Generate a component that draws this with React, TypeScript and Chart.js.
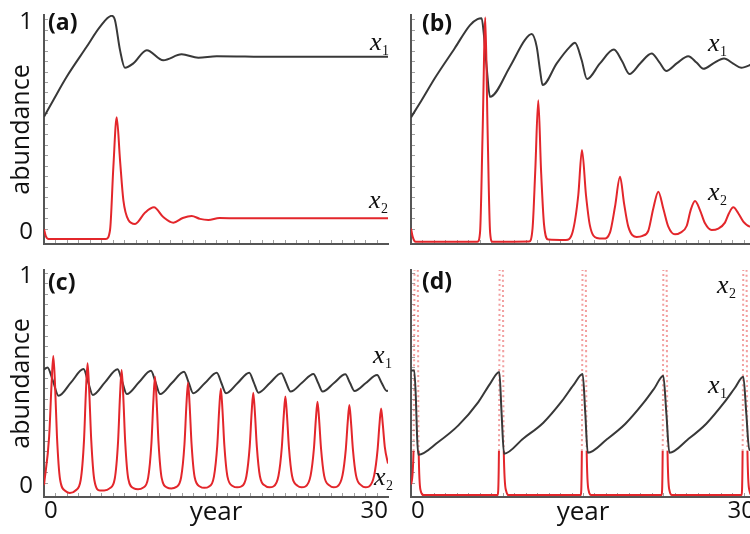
import React, { useEffect, useRef } from 'react';
import { Chart, registerables } from 'chart.js';

Chart.register(...registerables);

type Pt = [number, number];

// ---------- text / ticks ----------
const yearMin = 0;
const yearMax = 30;
const yTickValues = [0, 1];
const yTickLabels = ['0', '1'];
const xTickValues = [0, 30];
const xTickLabels = ['0', '30'];
const yAxisTitle = 'abundance';
const xAxisTitle = 'year';
const panelLetters = ['(a)', '(b)', '(c)', '(d)'];
const seriesBase = 'x';
const seriesSubs = ['1', '2'];

// ---------- data: [year, abundance] ----------
const aX1: Pt[] = [
  [0, 0.584], [0.81, 0.663], [1.98, 0.775], [3.72, 0.918], [4.88, 1.013], [5.9, 1.066],
  [6.19, 1.045], [6.63, 0.902], [7.06, 0.818], [7.79, 0.839], [8.96, 0.902], [10.4, 0.854],
  [12.0, 0.882], [13.46, 0.866], [15.06, 0.873], [20, 0.87], [30, 0.87],
];
const aX2: Pt[] = [
  [0, 0.047], [0.15, 0.015], [0.4, 0.0], [5.4, 0.0], [5.76, 0.043], [6.05, 0.345], [6.34, 0.581],
  [6.63, 0.377], [6.92, 0.186], [7.36, 0.091], [7.94, 0.072], [8.8, 0.125], [9.59, 0.151],
  [10.4, 0.105], [11.28, 0.078], [12.1, 0.1], [12.88, 0.11], [13.6, 0.096], [14.33, 0.091],
  [15.3, 0.1], [17, 0.099], [30, 0.099],
];

const bX1: Pt[] = [
  [0, 0.581], [0.9, 0.66], [2.1, 0.77], [3.8, 0.91], [5.15, 1.022], [5.8, 1.05], [6.16, 1.054],
  [6.35, 0.98], [6.6, 0.82], [6.89, 0.679],
  [8.63, 0.823], [9.94, 0.951], [10.52, 0.979], [10.96, 0.919], [11.25, 0.807], [11.48, 0.735],
  [12.71, 0.839], [13.87, 0.919], [14.3, 0.937], [14.88, 0.855], [15.35, 0.764],
  [16.48, 0.839], [17.7, 0.905], [18.4, 0.85], [19.05, 0.788],
  [20.0, 0.84], [20.99, 0.886], [21.65, 0.845], [22.25, 0.803],
  [23.2, 0.84], [24.18, 0.873], [24.9, 0.843], [25.5, 0.813],
  [26.4, 0.84], [27.3, 0.862], [28.1, 0.838], [28.8, 0.818],
  [29.56, 0.831], [30, 0.845],
];
const bX2: Pt[] = [
  [0, 0.05], [0.15, 0.01], [0.4, -0.013], [5.8, -0.013], [6.02, 0.03], [6.25, 0.52], [6.48, 1.058],
  [6.68, 0.52], [6.9, 0.03], [7.1, -0.013],
  [10.3, -0.012], [10.6, 0.05], [10.84, 0.33], [11.1, 0.663], [11.34, 0.33], [11.6, 0.07], [11.98, -0.003], [13.5, -0.005],
  [14.1, 0.035], [14.59, 0.21], [14.91, 0.425], [15.26, 0.21], [15.6, 0.065], [16.2, 0.005], [16.8, 0.002],
  [17.35, 0.03], [17.79, 0.154], [18.23, 0.297], [18.58, 0.17], [18.95, 0.059], [19.68, 0.01], [20.2, 0.015],
  [20.7, 0.04], [21.13, 0.146], [21.57, 0.226], [22.0, 0.146], [22.44, 0.059], [23.02, 0.022], [23.5, 0.03],
  [24.04, 0.062], [24.39, 0.138], [24.77, 0.181], [25.2, 0.138], [25.64, 0.075], [26.22, 0.043], [26.8, 0.05],
  [27.38, 0.078], [27.73, 0.123], [28.11, 0.151], [28.54, 0.123], [28.98, 0.083], [29.56, 0.059], [30, 0.057],
];

const cX1: Pt[] = [
  [0, 0.587], [0.3, 0.598], [0.8, 0.53], [1.26, 0.463],
  [2.36, 0.527], [3.45, 0.59], [3.85, 0.528], [4.25, 0.467],
  [5.33, 0.528], [6.42, 0.589], [6.82, 0.53], [7.22, 0.471],
  [8.28, 0.527], [9.33, 0.582], [9.73, 0.527], [10.13, 0.471],
  [11.17, 0.525], [12.21, 0.578], [12.61, 0.527], [13.01, 0.475],
  [14.04, 0.524], [15.07, 0.573], [15.47, 0.524], [15.87, 0.475],
  [16.89, 0.524], [17.9, 0.573], [18.3, 0.526], [18.7, 0.478],
  [19.7, 0.524], [20.7, 0.57], [21.1, 0.527], [21.5, 0.483],
  [22.5, 0.525], [23.5, 0.567], [23.9, 0.525], [24.3, 0.483],
  [25.29, 0.524], [26.28, 0.565], [26.68, 0.525], [27.08, 0.486],
  [28.07, 0.524], [29.05, 0.562], [29.45, 0.524], [29.9, 0.486], [30, 0.487],
];
const cX2: Pt[] = [
  [0, 0.038], [0.45, 0.27], [0.66, 0.52], [0.81, 0.652], [0.96, 0.52], [1.13, 0.27], [1.4, 0.065], [1.9, 0.008], [2.25, 0.0],
  [2.75, 0.012], [3.2, 0.062], [3.49, 0.252], [3.66, 0.49], [3.8, 0.618], [3.94, 0.49], [4.12, 0.252], [4.39, 0.062], [4.88, 0.012], [5.25, 0.012],
  [5.72, 0.022], [6.17, 0.068], [6.46, 0.245], [6.63, 0.465], [6.77, 0.586], [6.91, 0.465], [7.08, 0.245], [7.35, 0.068], [7.84, 0.022], [8.2, 0.018],
  [8.63, 0.025], [9.08, 0.072], [9.37, 0.238], [9.54, 0.44], [9.68, 0.554], [9.82, 0.44], [9.99, 0.238], [10.26, 0.072], [10.75, 0.026], [11.1, 0.022],
  [11.51, 0.028], [11.96, 0.075], [12.25, 0.232], [12.42, 0.42], [12.56, 0.525], [12.7, 0.42], [12.87, 0.232], [13.14, 0.075], [13.63, 0.03], [13.98, 0.025],
  [14.37, 0.03], [14.82, 0.078], [15.11, 0.226], [15.28, 0.4], [15.42, 0.498], [15.56, 0.4], [15.73, 0.226], [16.0, 0.078], [16.49, 0.032], [16.84, 0.027],
  [17.2, 0.031], [17.65, 0.08], [17.94, 0.222], [18.11, 0.385], [18.25, 0.478], [18.39, 0.385], [18.56, 0.222], [18.83, 0.08], [19.32, 0.033], [19.66, 0.027],
  [20.0, 0.031], [20.45, 0.082], [20.74, 0.218], [20.91, 0.37], [21.05, 0.459], [21.19, 0.37], [21.36, 0.218], [21.63, 0.082], [22.12, 0.034], [22.45, 0.027],
  [22.8, 0.031], [23.25, 0.083], [23.54, 0.212], [23.71, 0.352], [23.85, 0.435], [23.99, 0.352], [24.16, 0.212], [24.43, 0.083], [24.92, 0.035], [25.25, 0.027],
  [25.58, 0.031], [26.03, 0.084], [26.32, 0.208], [26.49, 0.34], [26.63, 0.419], [26.77, 0.34], [26.94, 0.208], [27.21, 0.084], [27.7, 0.035], [28.03, 0.027],
  [28.35, 0.031], [28.8, 0.085], [29.09, 0.205], [29.26, 0.33], [29.4, 0.403], [29.54, 0.33], [29.72, 0.22], [30, 0.14],
];

const dX1: Pt[] = [
  [0, 0.584], [0.28, 0.584], [0.42, 0.46], [0.53, 0.27], [0.64, 0.182],
  [2.38, 0.243], [4.13, 0.322], [5.87, 0.433], [6.89, 0.52], [7.7, 0.576], [7.9, 0.38], [8.11, 0.187],
  [9.8, 0.26], [11.54, 0.335], [13.19, 0.44], [14.18, 0.515], [14.97, 0.567], [15.2, 0.38], [15.41, 0.192],
  [17.06, 0.255], [18.7, 0.33], [20.29, 0.43], [21.24, 0.5], [22.0, 0.559], [22.27, 0.38], [22.53, 0.192],
  [24.14, 0.255], [25.75, 0.33], [27.3, 0.43], [28.24, 0.5], [28.98, 0.554], [29.24, 0.38], [29.5, 0.205], [30, 0.222],
];
const dX2: Pt[] = [
  [0, 0.04], [0.22, 0.2], [0.31, 1.1], [0.45, 3.0], [0.59, 1.1], [0.67, 0.2], [0.85, 0.01], [1.1, -0.01],
  [7.55, -0.01], [7.67, 0.2], [7.73, 1.1], [7.87, 3.0], [8.01, 1.1], [8.09, 0.2], [8.3, 0.01], [8.5, -0.01],
  [14.8, -0.01], [14.9, 0.2], [14.96, 1.1], [15.1, 3.0], [15.24, 1.1], [15.32, 0.2], [15.5, 0.01], [15.7, -0.01],
  [21.85, -0.01], [21.95, 0.2], [22.01, 1.1], [22.15, 3.0], [22.29, 1.1], [22.37, 0.2], [22.55, 0.01], [22.75, -0.01],
  [28.82, -0.01], [28.92, 0.2], [28.98, 1.1], [29.12, 3.0], [29.26, 1.1], [29.34, 0.2], [29.52, 0.01], [29.7, -0.01], [30, -0.01],
];

// ---------- style ----------
const BLACK = '#383838';
const RED = '#e3262b';
const PINK = 'rgba(232, 80, 80, 0.55)';
const AXIS = '#555555';
const TEXT = '#111111';
const FONT = '"Open Sans", Lato, sans-serif';
const SERIF = '"Liberation Serif", "DejaVu Serif", serif';

interface LabelPos { sub: number; t: number; v: number; }
interface PanelSpec {
  left: number; top: number; width: number; height: number;
  padTop: number; padRight: number; yAxisWidth: number; xAxisHeight: number;
  yMin: number; yMax: number; showY: boolean; showX: boolean;
  x1: Pt[]; x2: Pt[]; blackOnTop: boolean; dotted: boolean;
  letter: string; letterAt: [number, number]; labels: LabelPos[];
}

const panels: PanelSpec[] = [
  {
    left: 0, top: 0, width: 400, height: 252, padTop: 15, padRight: 12, yAxisWidth: 44, xAxisHeight: 8,
    yMin: -0.024, yMax: 1.07, showY: true, showX: false, x1: aX1, x2: aX2, blackOnTop: false, dotted: false,
    letter: panelLetters[0], letterAt: [0.35, 0.999],
    labels: [{ sub: 0, t: 28.43, v: 0.903 }, { sub: 1, t: 28.34, v: 0.148 }],
  },
  {
    left: 400, top: 0, width: 360, height: 252, padTop: 15, padRight: 5, yAxisWidth: 11, xAxisHeight: 8,
    yMin: -0.024, yMax: 1.07, showY: false, showX: false, x1: bX1, x2: bX2, blackOnTop: false, dotted: false,
    letter: panelLetters[1], letterAt: [0.96, 0.994],
    labels: [{ sub: 0, t: 25.9, v: 0.898 }, { sub: 1, t: 25.9, v: 0.186 }],
  },
  {
    left: 0, top: 252, width: 400, height: 282, padTop: 18, padRight: 12, yAxisWidth: 44, xAxisHeight: 37,
    yMin: -0.019, yMax: 1.062, showY: true, showX: true, x1: cX1, x2: cX2, blackOnTop: false, dotted: false,
    letter: panelLetters[2], letterAt: [0.35, 0.967],
    labels: [{ sub: 0, t: 28.69, v: 0.619 }, { sub: 1, t: 28.78, v: 0.038 }],
  },
  {
    left: 400, top: 252, width: 360, height: 282, padTop: 18, padRight: 5, yAxisWidth: 11, xAxisHeight: 37,
    yMin: -0.019, yMax: 1.062, showY: false, showX: true, x1: dX1, x2: dX2, blackOnTop: true, dotted: true,
    letter: panelLetters[3], letterAt: [0.96, 0.971],
    labels: [{ sub: 1, t: 26.69, v: 0.952 }, { sub: 0, t: 25.9, v: 0.476 }],
  },
];

function Panel({ spec }: { spec: PanelSpec }) {
  const ref = useRef<HTMLCanvasElement>(null);

  useEffect(() => {
    const canvas = ref.current;
    if (!canvas) return;

    const overlay = {
      id: 'overlay',
      beforeDatasetsDraw(chart: any) {
        const { ctx, chartArea } = chart;
        const xs = chart.scales.x;
        const ys = chart.scales.y;
        ctx.save();
        ctx.strokeStyle = '#a0a0a0';
        ctx.lineWidth = 1;
        ctx.beginPath();
        for (let t = yearMin + 1; t < yearMax; t++) {
          const px = Math.round(xs.getPixelForValue(t)) + 0.5;
          ctx.moveTo(px, chartArea.bottom - 1);
          ctx.lineTo(px, chartArea.bottom - 4);
        }
        for (let k = 1; k <= 21; k++) {
          const py = Math.round(ys.getPixelForValue(k * 0.05)) + 0.5;
          if (py < chartArea.top) break;
          ctx.moveTo(chartArea.left + 1, py);
          ctx.lineTo(chartArea.left + 4, py);
        }
        ctx.stroke();
        ctx.restore();
      },
      afterDraw(chart: any) {
        const { ctx } = chart;
        const xs = chart.scales.x;
        const ys = chart.scales.y;
        ctx.save();
        ctx.fillStyle = TEXT;
        ctx.textBaseline = 'alphabetic';
        ctx.textAlign = 'left';
        ctx.font = `bold 23px ${FONT}`;
        ctx.fillText(spec.letter, xs.getPixelForValue(spec.letterAt[0]), ys.getPixelForValue(spec.letterAt[1]));
        for (const lab of spec.labels) {
          const px = xs.getPixelForValue(lab.t);
          const py = ys.getPixelForValue(lab.v);
          ctx.font = `italic 26px ${SERIF}`;
          ctx.fillText(seriesBase, px, py);
          const w = ctx.measureText(seriesBase).width;
          ctx.font = `14px ${SERIF}`;
          ctx.fillText(seriesSubs[lab.sub], px + w + 0.5, py + 5);
        }
        ctx.restore();
      },
    };

    const red: any = {
      data: spec.x2.map(([x, y]) => ({ x, y })),
      borderColor: RED,
      borderWidth: 2,
      pointRadius: 0,
      fill: false,
      cubicInterpolationMode: 'monotone',
    };
    if (spec.dotted) {
      const hi = (c: any) => c.p0.parsed.y >= 0.2 && c.p1.parsed.y >= 0.2;
      red.segment = {
        borderColor: (c: any) => (hi(c) ? PINK : undefined),
        borderDash: (c: any) => (hi(c) ? [2, 3] : undefined),
      };
    }
    const black: any = {
      data: spec.x1.map(([x, y]) => ({ x, y })),
      borderColor: BLACK,
      borderWidth: 2,
      pointRadius: 0,
      fill: false,
      cubicInterpolationMode: 'monotone',
    };

    const chart = new Chart(canvas, {
      type: 'line',
      data: { datasets: spec.blackOnTop ? [black, red] : [red, black] },
      options: {
        responsive: false,
        maintainAspectRatio: false,
        animation: false,
        devicePixelRatio: 1,
        events: [],
        layout: { padding: { top: spec.padTop, right: spec.padRight, left: 0, bottom: 0 } },
        plugins: { legend: { display: false }, tooltip: { enabled: false }, title: { display: false } },
        scales: {
          x: {
            type: 'linear',
            min: yearMin,
            max: yearMax,
            afterFit: (s: any) => {
              s.height = spec.xAxisHeight;
              s.paddingLeft = 0;
              s.paddingRight = 0;
              s.paddingTop = 0;
              s.paddingBottom = 0;
            },
            afterBuildTicks: (s: any) => { s.ticks = xTickValues.map((value) => ({ value })); },
            grid: { display: false, drawTicks: false },
            border: { display: true, color: AXIS, width: 2 },
            ticks: {
              display: spec.showX,
              autoSkip: false,
              maxRotation: 0,
              align: 'inner',
              padding: 0,
              color: TEXT,
              font: { family: FONT, size: 24 },
              callback: (_v: any, i: number) => xTickLabels[i],
            },
            title: {
              display: spec.showX,
              text: xAxisTitle,
              color: TEXT,
              font: { family: FONT, size: 26 },
              padding: { top: 0, bottom: 6 },
            },
          },
          y: {
            type: 'linear',
            min: spec.yMin,
            max: spec.yMax,
            afterFit: (s: any) => {
              s.width = spec.yAxisWidth;
              s.paddingTop = 0;
              s.paddingBottom = 0;
              s.paddingLeft = 0;
              s.paddingRight = 0;
            },
            afterBuildTicks: (s: any) => { s.ticks = yTickValues.map((value) => ({ value })); },
            grid: { display: false, drawTicks: false },
            border: { display: true, color: AXIS, width: 2 },
            ticks: {
              display: spec.showY,
              autoSkip: false,
              padding: 11,
              labelOffset: -7,
              color: TEXT,
              font: { family: FONT, size: 24 },
              callback: (_v: any, i: number) => yTickLabels[i],
            },
            title: {
              display: spec.showY,
              text: yAxisTitle,
              color: TEXT,
              font: { family: FONT, size: 25 },
              padding: { top: 7, bottom: 0 },
            },
          },
        },
      } as any,
      plugins: [overlay],
    });

    return () => chart.destroy();
  }, [spec]);

  return (
    <canvas
      ref={ref}
      width={spec.width}
      height={spec.height}
      style={{ position: 'absolute', left: spec.left, top: spec.top, width: spec.width, height: spec.height }}
    />
  );
}

export default function App() {
  return (
    <div
      style={{
        position: 'fixed', left: 0, top: 0, width: 750, height: 534,
        overflow: 'hidden', background: '#ffffff',
      }}
    >
      {panels.map((p, i) => (
        <Panel key={i} spec={p} />
      ))}
    </div>
  );
}
